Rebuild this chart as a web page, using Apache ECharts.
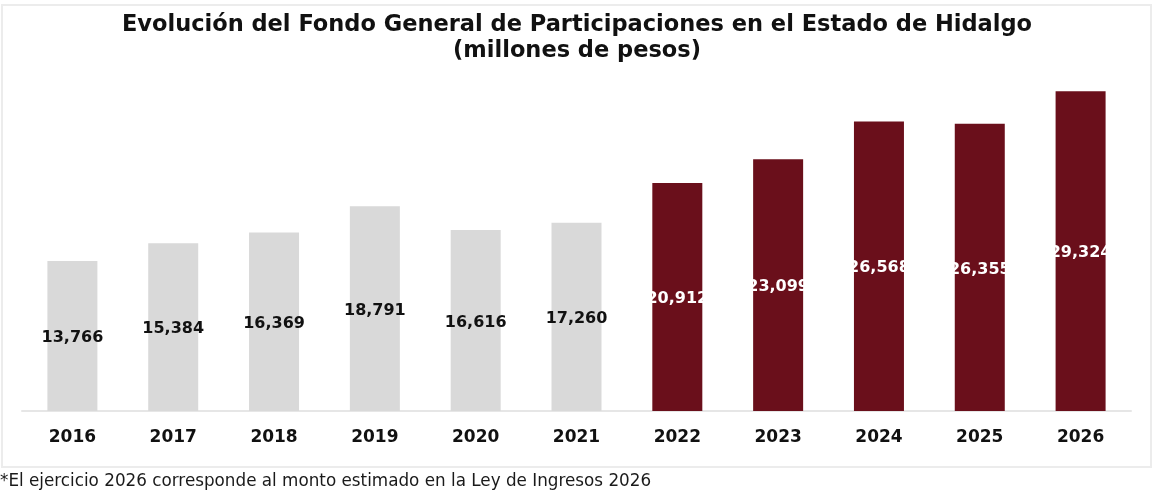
<!DOCTYPE html>
<html>
<head>
<meta charset="utf-8">
<script src="https://cdn.jsdelivr.net/npm/echarts@6/dist/echarts.min.js"></script>
<style>
    html, body {margin: 0; padding: 0; background: #fff;}
    #chart {width: 1154px; height: 500px;}
</style>
</head>
<body>
<div id="chart"></div>
<script type="text/javascript">
    // años y montos (millones de pesos)
    let years = ['2016', '2017', '2018', '2019', '2020', '2021', '2022', '2023', '2024', '2025', '2026'];
    let amounts = [13766, 15384, 16369, 18791, 16616, 17260, 20912, 23099, 26568, 26355, 29324];
    let darkFrom = 6; // desde 2022 las barras van en guinda

    let myChart = echarts.init(document.getElementById('chart'));
    let font = '"DejaVu Sans", sans-serif';

    let seriesData = amounts.map(function (v, i) {
        let dark = i >= darkFrom;
        return {
            value: v,
            itemStyle: {color: dark ? '#6a0f1b' : '#d9d9d9'},
            label: {color: dark ? '#ffffff' : '#111111'}
        };
    });

    let option = {
        animation: false,
        title: {
            text: 'Evolución del Fondo General de Participaciones en el Estado de Hidalgo\n(millones de pesos)',
            left: 'center',
            top: 7,
            textStyle: {
                fontFamily: font,
                fontWeight: 'bold',
                fontSize: 22.5,
                lineHeight: 26,
                color: '#111111'
            }
        },
        grid: {left: 22, right: 23, top: 84, bottom: 89},
        xAxis: {
            type: 'category',
            data: years,
            axisLine: {lineStyle: {color: '#e6e6e6', width: 2}},
            axisTick: {show: false},
            axisLabel: {
                margin: 18,
                fontFamily: font,
                fontWeight: 'bold',
                fontSize: 17,
                color: '#111111'
            }
        },
        yAxis: {
            type: 'value',
            min: 0,
            max: 30000,
            show: false,
            splitLine: {show: false}
        },
        series: [{
            type: 'bar',
            barWidth: 50,
            data: seriesData,
            label: {
                show: true,
                position: 'inside',
                offset: [0, 2],
                fontFamily: font,
                fontWeight: 'bold',
                fontSize: 16,
                formatter: function (p) {
                    return p.value.toLocaleString('en-US');
                }
            }
        }],
        graphic: [
            {
                type: 'rect',
                silent: true,
                z: -1,
                shape: {x: 2, y: 5, width: 1149, height: 462},
                style: {fill: 'none', stroke: '#ececec', lineWidth: 2}
            },
            {
                type: 'text',
                left: 0,
                top: 473,
                style: {
                    text: '*El ejercicio 2026 corresponde al monto estimado en la Ley de Ingresos 2026',
                    font: '16.8px "DejaVu Sans", sans-serif',
                    fill: '#1a1a1a'
                }
            }
        ]
    };
    myChart.setOption(option);
</script>
</body>
</html>
